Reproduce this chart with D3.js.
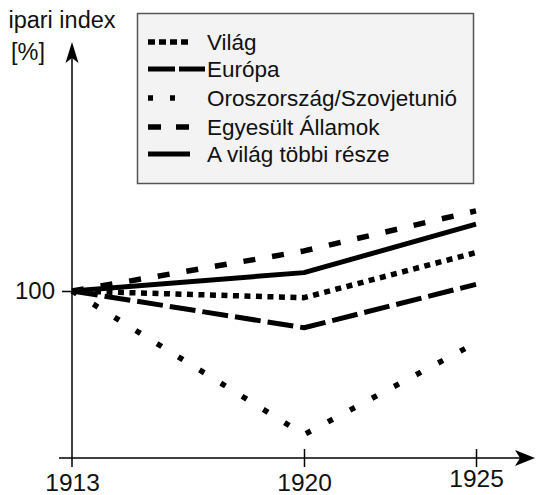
<!DOCTYPE html>
<html>
<head>
<meta charset="utf-8">
<script src="https://cdn.jsdelivr.net/npm/d3@7"></script>
<style>
  html, body { margin: 0; padding: 0; background: #fff; }
  svg { display: block; }
  text { font-family: "Liberation Sans", Arial, Helvetica, sans-serif; fill: #111; }
</style>
</head>
<body>
<svg id="chart" width="539" height="495"></svg>
<script>
const years = [1913, 1920, 1925];
const yearLabels = ["1913", "1920", "1925"];
const yTickValues = [100];
const yTickLabels = ["100"];

const seriesNames = ["Világ", "Európa", "Oroszország/Szovjetunió", "Egyesült Államok", "A világ többi része"];
const vilag   = [100, 96, 123];
const europa  = [100, 78, 104];
const szovjet = [100, 14, 69];
const usa     = [100, 124, 148];
const tobbi   = [100, 111, 140];

const yTitle1 = "ipari index";
const yTitle2 = "[%]";

const svg = d3.select("#chart");

const x = d3.scaleLinear().domain([1913, 1920, 1925]).range([72, 304, 476]);
const y = d3.scaleLinear().domain([0, 100]).range([458, 291]);

const styles = [
  { dash: "6,5.5", width: 5.5, legDash: "7,4" },
  { dash: "26,7", width: 5, legDash: "27,4" },
  { dash: "5.5,19.5", width: 5.5, legDash: "5,17" },
  { dash: "12,17", width: 5.5, legDash: "13,15" },
  { dash: null, width: 5, legDash: null }
];
const allSeries = [vilag, europa, szovjet, usa, tobbi];

// Legend box
const lg = svg.append("g");
lg.append("rect")
  .attr("x", 137.5).attr("y", 13.5).attr("width", 336).attr("height", 170)
  .attr("fill", "#f3f3f3").attr("stroke", "#555").attr("stroke-width", 1.5);

const legRows = [42, 69, 98, 127, 154];
const legLineEnd = [190, 205, 190, 190, 190];
seriesNames.forEach((name, i) => {
  lg.append("line")
    .attr("x1", 148).attr("x2", legLineEnd[i])
    .attr("y1", legRows[i]).attr("y2", legRows[i])
    .attr("stroke", "#000").attr("stroke-width", styles[i].width)
    .attr("stroke-dasharray", styles[i].legDash);
  lg.append("text")
    .attr("x", 207).attr("y", legRows[i]).attr("dy", "0.36em")
    .attr("font-size", 22.5)
    .text(name);
});

// Y axis title
svg.append("text").attr("x", 62).attr("y", 28).attr("text-anchor", "middle")
  .attr("font-size", 23.5).text(yTitle1);
svg.append("text").attr("x", 28).attr("y", 60).attr("text-anchor", "middle")
  .attr("font-size", 23.5).text(yTitle2);

// Series lines
const line = d3.line().x((d, i) => x(years[i])).y(d => y(d));
allSeries.forEach((s, i) => {
  svg.append("path")
    .datum(s)
    .attr("d", line)
    .attr("fill", "none")
    .attr("stroke", "#000")
    .attr("stroke-width", styles[i].width)
    .attr("stroke-linejoin", "round")
    .attr("stroke-dasharray", styles[i].dash);
});

// X axis
const xAxis = d3.axisBottom(x)
  .tickValues(years)
  .tickFormat((d, i) => yearLabels[i])
  .tickSizeOuter(0)
  .tickSize(9)
  .tickPadding(7);
const gx = svg.append("g").attr("transform", `translate(0,${y(0)})`).call(xAxis);
gx.select(".domain").remove();
gx.selectAll(".tick line").attr("y1", -9).attr("y2", 9).attr("stroke", "#000").attr("stroke-width", 1.5);
gx.selectAll(".tick").filter(d => d === 1913).select("line").remove();
gx.selectAll(".tick text").attr("font-size", 24.5).attr("fill", "#111")
  .attr("font-family", "'Liberation Sans', Arial, Helvetica, sans-serif")
  .attr("dy", (d) => d === 1925 ? "0.55em" : "0.7em");
svg.append("line").attr("x1", 59).attr("x2", 520).attr("y1", y(0)).attr("y2", y(0))
  .attr("stroke", "#000").attr("stroke-width", 1.5);
svg.append("path")
  .attr("d", `M535,${y(0)} L515,${y(0) - 8} L520,${y(0)} L515,${y(0) + 8} Z`)
  .attr("fill", "#000");

// Y axis
const yAxis = d3.axisLeft(y)
  .tickValues(yTickValues)
  .tickFormat((d, i) => yTickLabels[i])
  .tickSizeOuter(0)
  .tickSize(10)
  .tickPadding(7);
const gy = svg.append("g").attr("transform", `translate(${x(1913)},0)`).call(yAxis);
gy.select(".domain").remove();
gy.selectAll(".tick line").attr("stroke", "#000").attr("stroke-width", 1.5);
gy.selectAll(".tick text").attr("font-size", 24).attr("fill", "#111")
  .attr("font-family", "'Liberation Sans', Arial, Helvetica, sans-serif");
svg.append("line").attr("x1", x(1913)).attr("x2", x(1913)).attr("y1", 467).attr("y2", 58)
  .attr("stroke", "#000").attr("stroke-width", 1.5);
svg.append("path")
  .attr("d", `M${x(1913)},42 L${x(1913) - 6.5},63 L${x(1913)},58 L${x(1913) + 6.5},63 Z`)
  .attr("fill", "#000");
</script>
</body>
</html>
